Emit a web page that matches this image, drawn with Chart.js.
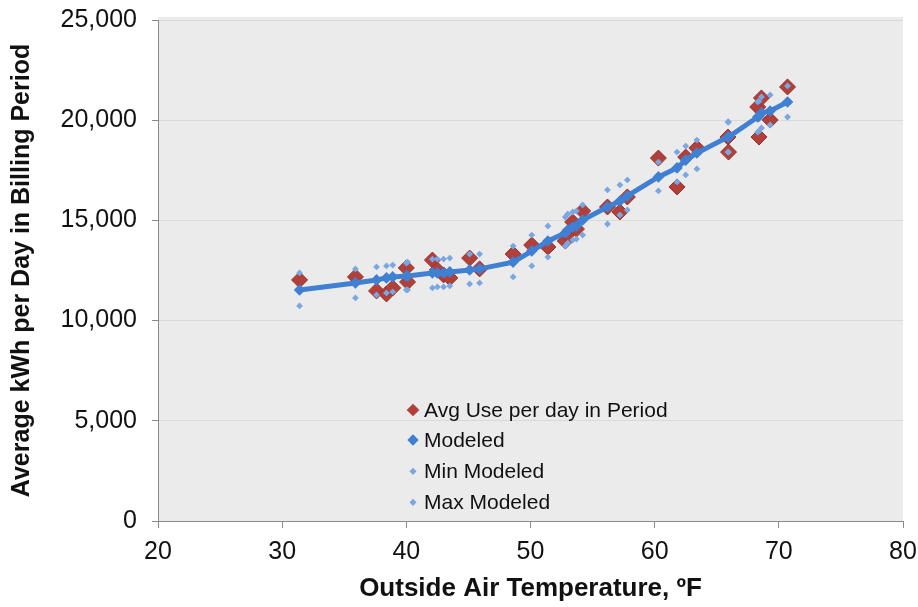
<!DOCTYPE html>
<html>
<head>
<meta charset="utf-8">
<script src="https://cdn.jsdelivr.net/npm/chart.js@4"></script>
<style>
  body { margin: 0; background: #fff; }
  #wrap { position: relative; width: 918px; height: 607px; }
  #legend { position: absolute; left: 0; top: 0; font-family: "Liberation Sans", Arial, sans-serif; font-size: 21px; color: #111; }
  .row { position: absolute; left: 404px; height: 30px; line-height: 30px; white-space: nowrap; }
  .mk { position: absolute; top: 50%; transform: translate(-50%, -50%) rotate(45deg); }
  .row span.txt { position: absolute; left: 20px; top: 0; }
</style>
</head>
<body>
<div id="wrap">
  <canvas id="chart" width="918" height="607"></canvas>
  <div id="legend"></div>
</div>
<script>
// outside air temperature (ºF) for each billing period
const temps = [31.4, 35.9, 37.6, 38.4, 38.9, 40.0, 40.1, 42.1, 42.5, 43.0, 43.5, 45.1, 45.9,
  48.6, 50.1, 51.4, 52.8, 53.0, 53.4, 53.7, 54.2, 56.2, 57.2, 57.8, 60.3, 61.8, 62.5, 63.4,
  65.9, 65.95, 68.3, 68.4, 68.6, 69.3, 70.7];

const avgUse = [12030, 12180, 11480, 11330, 11630, 12630, 11930, 13020, 12530, 12280, 12130, 13120, 12580,
  13320, 13770, 13670, 13970, 14320, 14920, 14570, 15470, 15670, 15420, 16170, 18110, 16670, 18160, 18610,
  19160, 18410, 20660, 19160, 21110, 20010, 21660];

const modeled = [11530, 11880, 12030, 12130, 12180, 12230, 12230, 12380, 12380, 12380, 12430, 12530, 12580,
  12920, 13470, 13970, 14370, 14520, 14670, 14720, 15020, 15670, 15970, 16220, 17170, 17620, 18010, 18360,
  19160, 19160, 20160, 20200, 20360, 20460, 20910];

const minModeled = [10730, 11130, 11280, 11380, 11430, 11530, 11530, 11630, 11680, 11680, 11730, 11830, 11880,
  12180, 12730, 13170, 13720, 13870, 14020, 14070, 14270, 14820, 15270, 15520, 16470, 16920, 17270, 17570,
  18410, 18410, 19410, 19450, 19610, 19760, 20160];

const maxModeled = [12380, 12580, 12680, 12730, 12770, 12870, 12920, 13070, 13070, 13070, 13120, 13320, 13320,
  13720, 14270, 14720, 15170, 15320, 15420, 15470, 15770, 16520, 16770, 17020, 17910, 18410, 18710, 19010,
  19910, 19910, 20910, 20950, 21160, 21260, 21710];

const xTicks = [20, 30, 40, 50, 60, 70, 80];
const yTicks = [0, 5000, 10000, 15000, 20000, 25000];

const RED = '#b1403b';
const RED_EDGE = '#97302c';
const BLUE = '#3f80d3';
const LIGHT = '#7aa7e2';
const FONT = '"Liberation Sans", Arial, sans-serif';

function pts(ys) {
  return temps.map((t, i) => ({ x: t, y: ys[i] }));
}

const plotBg = {
  id: 'plotBg',
  beforeDraw(chart) {
    const { ctx, chartArea: a } = chart;
    ctx.save();
    ctx.fillStyle = '#ebebeb';
    ctx.fillRect(a.left, a.top - 3, a.right - a.left, a.bottom - a.top + 3);
    ctx.restore();
  }
};

// datasets listed top-most first (chart.js paints index 0 last)
const chart = new Chart(document.getElementById('chart').getContext('2d'), {
  type: 'scatter',
  data: {
    datasets: [
      { label: 'Max Modeled', data: pts(maxModeled), pointStyle: 'rectRot', pointRadius: 3.4,
        backgroundColor: LIGHT, borderColor: LIGHT, borderWidth: 0 },
      { label: 'Min Modeled', data: pts(minModeled), pointStyle: 'rectRot', pointRadius: 3.4,
        backgroundColor: LIGHT, borderColor: LIGHT, borderWidth: 0 },
      { label: 'Modeled', data: pts(modeled), showLine: true, borderColor: BLUE, borderWidth: 5,
        pointStyle: 'rectRot', pointRadius: 5.8, pointBackgroundColor: BLUE, pointBorderColor: BLUE,
        pointBorderWidth: 0 },
      { label: 'Avg Use per day in Period', data: pts(avgUse), pointStyle: 'rectRot', pointRadius: 8,
        backgroundColor: RED, borderColor: RED_EDGE, borderWidth: 1 }
    ]
  },
  options: {
    responsive: false,
    animation: false,
    layout: { padding: { top: 20, right: 15, left: 0, bottom: 0 } },
    plugins: { legend: { display: false }, tooltip: { enabled: false } },
    scales: {
      x: {
        type: 'linear', min: 20, max: 80,
        afterFit: s => { s.height = 86; s.paddingLeft = 0; s.paddingRight = 0; },
        afterBuildTicks: s => { s.ticks = xTicks.map(v => ({ value: v })); },
        ticks: { color: '#111', font: { family: FONT, size: 25 }, padding: 9 },
        grid: { drawOnChartArea: false, tickLength: 7, tickColor: '#8a8a8a' },
        border: { color: '#8a8a8a', width: 1 },
        title: { display: true, text: 'Outside Air Temperature, ºF', color: '#111',
          font: { family: FONT, size: 26, weight: 'bold' }, padding: { top: 0, bottom: 3 } }
      },
      y: {
        type: 'linear', min: 0, max: 25000,
        afterFit: s => { s.width = 158; s.paddingTop = 0; s.paddingBottom = 0; },
        afterBuildTicks: s => { s.ticks = yTicks.map(v => ({ value: v })); },
        ticks: { color: '#111', font: { family: FONT, size: 25 }, padding: 15,
          callback: v => v.toLocaleString('en-US') },
        grid: { color: '#d9d9d9', tickLength: 6, tickColor: '#8a8a8a' },
        border: { color: '#8a8a8a', width: 1 },
        title: { display: true, text: 'Average kWh per Day in Billing Period', color: '#111',
          font: { family: FONT, size: 25, weight: 'bold' }, padding: { top: 7, bottom: 0 } }
      }
    }
  },
  plugins: [plotBg]
});

// legend inside the plot, as in the original
const legendItems = [
  { text: 'Avg Use per day in Period', color: RED, size: 9, cy: 410 },
  { text: 'Modeled', color: BLUE, size: 8, cy: 440 },
  { text: 'Min Modeled', color: LIGHT, size: 4.5, cy: 471 },
  { text: 'Max Modeled', color: LIGHT, size: 4.5, cy: 502 }
];
const legend = document.getElementById('legend');
legendItems.forEach(it => {
  const row = document.createElement('div');
  row.className = 'row';
  row.style.top = (it.cy - 15) + 'px';
  const mk = document.createElement('div');
  mk.className = 'mk';
  mk.style.left = '9px';
  mk.style.width = it.size + 'px';
  mk.style.height = it.size + 'px';
  mk.style.background = it.color;
  const txt = document.createElement('span');
  txt.className = 'txt';
  txt.textContent = it.text;
  row.appendChild(mk);
  row.appendChild(txt);
  legend.appendChild(row);
});
</script>
</body>
</html>
